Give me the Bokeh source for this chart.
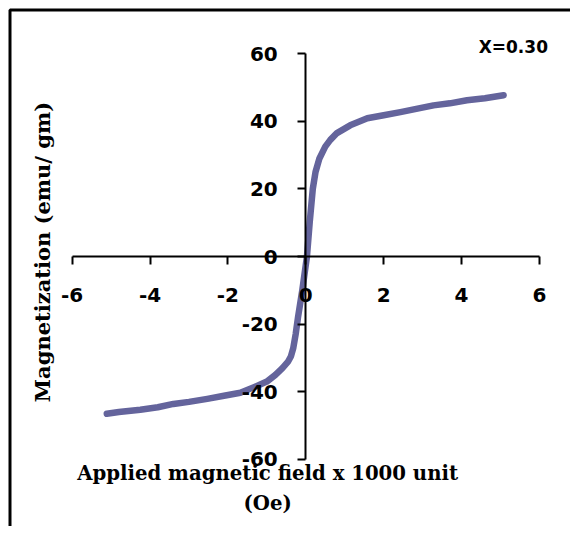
from bokeh.plotting import figure
from bokeh.models import Range1d, LinearAxis, FixedTicker, Label, BoxAnnotation
from bokeh.embed import file_html
from bokeh.resources import INLINE

# Data (H in kOe, M in emu/gm)
field_h = [-5.11, -4.8, -4.25, -3.8, -3.4, -3.0, -2.53, -2.1, -1.68, -1.3,
           -1.0, -0.78, -0.6, -0.45, -0.38, -0.32, -0.26, -0.2, -0.09, 0.03,
           0.1, 0.18, 0.25, 0.35, 0.5, 0.63, 0.8, 1.14, 1.58, 2.0, 2.43,
           2.9, 3.28, 3.7, 4.14, 4.6, 5.08]
magnet_m = [-46.5, -46.0, -45.3, -44.6, -43.6, -43.0, -42.1, -41.2, -40.3, -38.5,
            -37.0, -35.0, -33.0, -31.0, -29.5, -27.0, -23.0, -18.0, -10.0, 0.0,
            10.0, 20.0, 25.0, 29.0, 32.5, 34.5, 36.5, 38.8, 40.9, 41.8, 42.7,
            43.8, 44.7, 45.3, 46.2, 46.8, 47.7]
x_ticks = [-6, -4, -2, 0, 2, 4, 6]
x_tick_labels = ["-6", "-4", "-2", "0", "2", "4", "6"]
y_ticks = [-60, -40, -20, 0, 20, 40, 60]
y_tick_labels = ["-60", "-40", "-20", "0", "20", "40", "60"]
x_title = "Applied magnetic field x 1000 unit"
x_title2 = "(Oe)"
y_title = "Magnetization (emu/ gm)"
series_label = "X=0.30"

p = figure(width=570, height=526, output_backend="svg", toolbar_location=None,
           x_range=Range1d(-7.840, 6.798), y_range=Range1d(-79.86, 75.72),
           x_axis_location=None, y_axis_location=None, min_border=0,
           min_border_left=0, min_border_right=0, min_border_top=0, min_border_bottom=0)
p.grid.visible = False
p.outline_line_color = None
p.background_fill_color = "white"
p.border_fill_color = "white"

tick_font = "DejaVu Sans"

xa = LinearAxis(fixed_location=0, ticker=FixedTicker(ticks=x_ticks), bounds=(-6, 6))
xa.major_label_overrides = {t: s for t, s in zip(x_ticks, x_tick_labels)}
xa.axis_line_width = 2
xa.major_tick_line_width = 2
xa.major_tick_in = 0
xa.major_tick_out = 8
xa.minor_tick_line_color = None
xa.major_label_text_font = tick_font
xa.major_label_text_font_style = "bold"
xa.major_label_text_font_size = "20px"
xa.major_label_text_color = "black"
xa.major_label_standoff = 23
p.add_layout(xa, "below")

ya = LinearAxis(fixed_location=0, ticker=FixedTicker(ticks=y_ticks), bounds=(-60, 60))
ya.major_label_overrides = {t: s for t, s in zip(y_ticks, y_tick_labels)}
ya.axis_line_width = 2
ya.major_tick_line_width = 2
ya.major_tick_in = 0
ya.major_tick_out = 8
ya.minor_tick_line_color = None
ya.major_label_text_font = tick_font
ya.major_label_text_font_style = "bold"
ya.major_label_text_font_size = "20px"
ya.major_label_text_color = "black"
ya.major_label_standoff = 20
p.add_layout(ya, "left")

# chart-area border (only left and top edges fall inside the picture)
p.add_layout(BoxAnnotation(left=-7.596, top=72.9, right=8.0, bottom=-90.0,
                           fill_alpha=0, line_color="black", line_width=3, line_alpha=1))

p.line(field_h, magnet_m, line_color="#64649c", line_width=6.5,
       line_join="round", line_cap="round")

title_font = "DejaVu Serif"
p.add_layout(Label(x=-0.98, y=-64.2, text=x_title, text_align="center",
                   text_baseline="middle", text_font=title_font,
                   text_font_style="bold", text_font_size="19.7px", text_color="black"))
p.add_layout(Label(x=-0.98, y=-73.1, text=x_title2, text_align="center",
                   text_baseline="middle", text_font=title_font,
                   text_font_style="bold", text_font_size="19.7px", text_color="black"))
p.add_layout(Label(x=-6.76, y=1.33, text=y_title, angle=1.5708, text_align="center",
                   text_baseline="middle", text_font=title_font,
                   text_font_style="bold", text_font_size="21px", text_color="black"))
p.add_layout(Label(x=5.33, y=62.1, text=series_label, text_align="center",
                   text_baseline="middle", text_font=tick_font,
                   text_font_style="bold", text_font_size="17px", text_color="black"))

open("out.html", "w").write(file_html(p, INLINE))
